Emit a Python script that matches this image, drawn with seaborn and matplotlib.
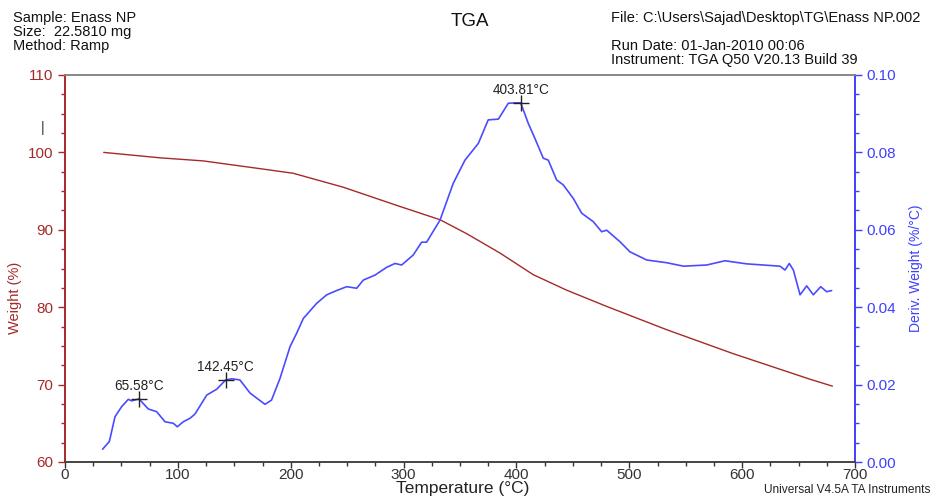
import matplotlib
matplotlib.use("Agg")
import matplotlib.pyplot as plt
import seaborn as sns
import pandas as pd
from matplotlib.ticker import MultipleLocator

# ---- data ----
weight_temp = [34.3, 84.2, 122.5, 172.8, 202.3, 246.6, 293.0, 332.3, 355.9, 385.4,
               414.9, 444.5, 480.0, 533.0, 592.0, 660.0, 680.0]
weight_pct = [100.0, 99.3, 98.9, 97.9, 97.3, 95.5, 93.2, 91.3, 89.5, 87.0,
              84.2, 82.2, 80.1, 77.1, 74.0, 70.7, 69.8]

deriv_temp = [33.3, 39.3, 44.3, 50.2, 56.1, 59.0, 65.6, 73.8, 81.2, 88.6, 96.0, 99.5,
              104.8, 110.8, 115.2, 125.6, 134.4, 142.4, 148.0, 155.0, 164.0, 177.2, 183.0,
              190.5, 199.4, 205.3, 211.2, 223.0, 231.9, 240.7, 249.6, 258.5, 264.3, 274.7,
              285.0, 292.4, 298.3, 308.6, 316.0, 320.4, 332.3, 344.0, 354.4, 366.2, 375.0,
              384.0, 392.8, 398.7, 403.8, 410.5, 416.4, 423.8, 428.2, 435.6, 441.5, 450.4,
              457.8, 468.1, 475.5, 480.0, 491.8, 500.6, 515.4, 533.0, 548.0, 568.6, 584.8,
              604.0, 633.5, 638.0, 641.8, 645.4, 651.3, 657.2, 663.1, 669.6, 674.9, 679.3]
deriv_val = [0.0033, 0.0053, 0.0117, 0.0143, 0.0162, 0.0158, 0.0163, 0.0137, 0.0130, 0.0104,
             0.0100, 0.0091, 0.0104, 0.0113, 0.0124, 0.0173, 0.0188, 0.0212, 0.0215, 0.0212,
             0.0178, 0.0149, 0.0160, 0.0216, 0.0298, 0.0333, 0.0371, 0.0410, 0.0432, 0.0443,
             0.0453, 0.0449, 0.0470, 0.0483, 0.0503, 0.0513, 0.0509, 0.0535, 0.0568, 0.0568,
             0.0625, 0.0720, 0.0780, 0.0823, 0.0884, 0.0886, 0.0927, 0.0928, 0.0928, 0.0875,
             0.0836, 0.0785, 0.0780, 0.0729, 0.0716, 0.0681, 0.0643, 0.0621, 0.0595, 0.0599,
             0.0569, 0.0543, 0.0522, 0.0515, 0.0506, 0.0509, 0.0520, 0.0512, 0.0506, 0.0496,
             0.0513, 0.0496, 0.0432, 0.0455, 0.0432, 0.0453, 0.0440, 0.0443]

peak_temp = [65.58, 142.45, 403.81]
peak_val = [0.0163, 0.0212, 0.0928]
peak_labels = ["65.58°C", "142.45°C", "403.81°C"]

x_ticks = [0, 100, 200, 300, 400, 500, 600, 700]
left_ticks = [60, 70, 80, 90, 100, 110]
right_ticks = [0.00, 0.02, 0.04, 0.06, 0.08, 0.10]

RED = "#A52A2A"
BLUE = "#3F3FFF"
LINE_BLUE = "#4B4BFF"

sns.set_style("white")
plt.rcParams['font.family'] = ['Liberation Sans', 'DejaVu Sans']

W, H = 941, 497
fig = plt.figure(figsize=(9.41, 4.97), dpi=100)
ax = fig.add_axes([65/W, 35/H, 790/W, 387/H])
ax2 = ax.twinx()

wdf = pd.DataFrame({"T": weight_temp, "W": weight_pct})
ddf = pd.DataFrame({"T": deriv_temp, "D": deriv_val})

sns.lineplot(data=wdf, x="T", y="W", ax=ax, color=RED, linewidth=1.0)
sns.lineplot(data=ddf, x="T", y="D", ax=ax2, color=LINE_BLUE, linewidth=1.2)

ax.set_xlim(0, 700)
ax.set_ylim(60, 110)
ax2.set_ylim(0, 0.10)

ax.set_xticks(x_ticks)
ax.set_yticks(left_ticks)
ax2.set_yticks(right_ticks)
ax.xaxis.set_minor_locator(MultipleLocator(25))
ax.yaxis.set_minor_locator(MultipleLocator(2.5))
ax2.yaxis.set_minor_locator(MultipleLocator(0.005))
ax2.set_yticklabels([f"{v:.2f}" for v in right_ticks])

ax.tick_params(axis='x', which='major', direction='out', length=4, width=1, colors='#333333',
               labelsize=11, bottom=True, pad=0)
ax.tick_params(axis='x', which='minor', direction='out', length=3, width=1, colors='#333333', bottom=True)
ax.tick_params(axis='y', which='major', direction='out', length=5, width=1, colors=RED,
               labelsize=11, left=True)
ax.tick_params(axis='y', which='minor', direction='out', length=3, width=1, colors=RED, left=True)
ax2.tick_params(axis='y', which='major', direction='out', length=5, width=1, colors=BLUE,
                labelsize=11, right=True)
ax2.tick_params(axis='y', which='minor', direction='out', length=3, width=1, colors=BLUE, right=True)

for a in (ax, ax2):
    a.spines['top'].set_color('#888888')
    a.spines['bottom'].set_color('#444444')
    a.spines['left'].set_color(RED)
    a.spines['right'].set_color(BLUE)
    for s in a.spines.values():
        s.set_linewidth(1.2)

ax.set_xlabel("")
ax.set_ylabel("")
ax2.set_ylabel("")
fig.text(463/W, 1 - 489/H, "Temperature (°C)", ha='center', va='center', fontsize=12.5, color='#222222')
fig.text(15/W, 1 - 298/H, "Weight (%)", ha='center', va='center', rotation=90,
         fontsize=10.5, color=RED)
fig.text(916/W, 1 - 268/H, "Deriv. Weight (%/°C)", ha='center', va='center', rotation=90,
         fontsize=10, color=BLUE)

# peak markers and labels
for t, v, lab in zip(peak_temp, peak_val, peak_labels):
    ax2.plot(t, v, marker='+', markersize=11, color='#222222', markeredgewidth=1)
    ax2.annotate(lab, (t, v), xytext=(0, 4), textcoords='offset points',
                 ha='center', va='bottom', fontsize=9.8, color='#222222')

# header text
fig.text(13/W, 1 - 11/H, "Sample: Enass NP\nSize:  22.5810 mg\nMethod: Ramp",
         ha='left', va='top', fontsize=10.5, linespacing=1.0, color='#111111')
fig.text(470/W, 1 - 22/H, "TGA", ha='center', va='center', fontsize=13.5, color='#111111')
fig.text(611/W, 1 - 11/H, "File: C:\\Users\\Sajad\\Desktop\\TG\\Enass NP.002",
         ha='left', va='top', fontsize=10.5, color='#111111')
fig.text(611/W, 1 - 39/H, "Run Date: 01-Jan-2010 00:06\nInstrument: TGA Q50 V20.13 Build 39",
         ha='left', va='top', fontsize=10.5, linespacing=1.0, color='#111111')
fig.text(930/W, 1 - 490/H, "Universal V4.5A TA Instruments",
         ha='right', va='center', fontsize=8.6, color='#222222')
fig.text(43/W, 1 - 128/H, "|", ha='center', va='center', fontsize=10, color='#333333')

fig.savefig("out.png", dpi=100)
